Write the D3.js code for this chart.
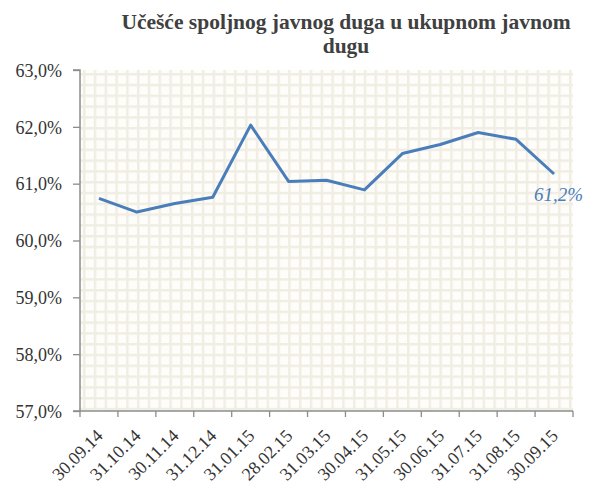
<!DOCTYPE html>
<html><head><meta charset="utf-8">
<script src="https://cdn.jsdelivr.net/npm/d3@7"></script>
<style>body{margin:0;background:#fff}svg{display:block}</style>
</head><body>
<svg id="c" width="590" height="488"></svg>
<script>
const categories = ["30.09.14","31.10.14","30.11.14","31.12.14","31.01.15","28.02.15","31.03.15","30.04.15","31.05.15","30.06.15","31.07.15","31.08.15","30.09.15"];
const values = [60.74, 60.50, 60.65, 60.76, 62.03, 61.04, 61.06, 60.89, 61.53, 61.69, 61.90, 61.78, 61.17];
const yTicks = [57, 58, 59, 60, 61, 62, 63];
const titleLines = ["Učešće spoljnog javnog duga u ukupnom javnom", "dugu"];
const lastLabel = "61,2%";

const svg = d3.select("#c");
const L = 80, R = 573, T = 70, B = 411;
const x = d3.scaleBand().domain(categories).range([L, R]);
const y = d3.scaleLinear().domain([57, 63]).range([B, T]);

const defs = svg.append("defs");
const p = defs.append("pattern").attr("id","grid").attr("patternUnits","userSpaceOnUse")
  .attr("width",10.8).attr("height",10.8).attr("x",L+3).attr("y",T+3);
p.append("rect").attr("width",10.8).attr("height",10.8).attr("fill","#fefdfa");
p.append("rect").attr("x",0).attr("y",0).attr("width",2.4).attr("height",10.8).attr("fill","#f0ede3");
p.append("rect").attr("x",0).attr("y",0).attr("width",10.8).attr("height",2.4).attr("fill","#f0ede3");
svg.append("rect").attr("x",L).attr("y",T).attr("width",R-L).attr("height",B-T).attr("fill","url(#grid)");

const font = "'Liberation Serif','Times New Roman',serif";

// Title
svg.append("text").attr("text-anchor","middle")
  .attr("font-family",font).attr("font-weight","bold").attr("font-size",21.5).attr("fill","#404040")
  .selectAll("tspan").data(titleLines).join("tspan")
  .attr("x",346).attr("y",(d,i)=>29+i*24).text(d=>d);

// Y axis
const yAxis = d3.axisLeft(y).tickValues(yTicks).tickSize(7).tickPadding(11)
  .tickFormat(d=>d3.format(".1f")(d).replace(".",",")+"%");
const gy = svg.append("g").attr("transform",`translate(${L},0)`).call(yAxis);
gy.attr("font-family",null).attr("font-size",null);
gy.select(".domain").attr("stroke","#8c8c8c").attr("stroke-width",1.5).attr("d",`M-7,${T}H0V${B}H-7`);
gy.selectAll(".tick line").attr("stroke","#8c8c8c").attr("stroke-width",1.3);
gy.selectAll(".tick text").attr("font-family",font).attr("font-size",18).attr("fill","#333").attr("dy","0.35em");

// X axis
const gx = svg.append("g").attr("transform",`translate(0,${B})`);
gx.append("line").attr("x1",L).attr("x2",R).attr("stroke","#8c8c8c").attr("stroke-width",1.5);
const bounds = categories.map(c=>x(c)).concat([R]);
gx.selectAll("line.tk").data(bounds).join("line").attr("class","tk")
  .attr("x1",d=>d).attr("x2",d=>d).attr("y1",0).attr("y2",6).attr("stroke","#8c8c8c").attr("stroke-width",1.3);
gx.selectAll("text").data(categories).join("text")
  .attr("transform",d=>`translate(${x(d)+x.bandwidth()/2+5},${26}) rotate(-45)`)
  .attr("text-anchor","end").attr("font-family",font).attr("font-size",18).attr("fill","#333")
  .text(d=>d);

// Line
const line = d3.line().x((d,i)=>x(categories[i])+x.bandwidth()/2).y(d=>y(d));
svg.append("path").datum(values).attr("d",line).attr("fill","none")
  .attr("stroke","#4a7ebb").attr("stroke-width",3).attr("stroke-linejoin","round");

// Last label
const li = values.length-1;
svg.append("text").attr("x",x(categories[li])+x.bandwidth()/2-20).attr("y",y(values[li])+27)
  .attr("font-family",font).attr("font-style","italic").attr("font-size",19).attr("fill","#4a7ebb")
  .text(lastLabel);
</script>
</body></html>
